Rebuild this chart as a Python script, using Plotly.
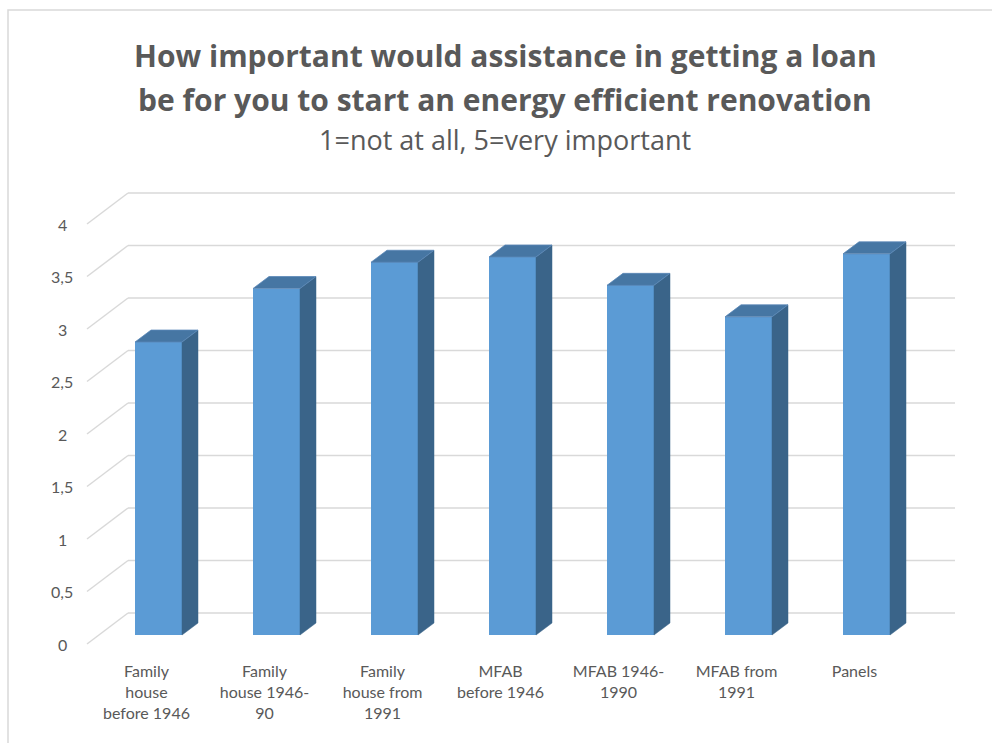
import plotly.graph_objects as go

categories = ["Family<br>house<br>before 1946", "Family<br>house 1946-<br>90", "Family<br>house from<br>1991",
              "MFAB<br>before 1946", "MFAB 1946-<br>1990", "MFAB from<br>1991", "Panels"]
values = [2.79, 3.30, 3.55, 3.60, 3.33, 3.03, 3.63]
y_ticks = [0, 0.5, 1, 1.5, 2, 2.5, 3, 3.5, 4]
y_ticktext = ["0", "0,5", "1", "1,5", "2", "2,5", "3", "3,5", "4"]

# ---- geometry (pixels) ----
W, H = 992, 743
L, R, T, B = 80, 970, 170, 660
PX_X0, PX_PER_CAT = 158.5, 118.0   # bar-front plane: category 0 centre, px per category
PX_Y0, PX_PER_UNIT = 635.0, 105.0  # bar-front plane: value 0, px per unit

def dx(px):
    return px / PX_PER_CAT

def dy(px):
    return px / PX_PER_UNIT

xr = [(L - PX_X0) / PX_PER_CAT, (R - PX_X0) / PX_PER_CAT]
yr = [(PX_Y0 - B) / PX_PER_UNIT, (PX_Y0 - T) / PX_PER_UNIT]

bar_w = dx(47)
bdx, bdy = dx(16), dy(12)            # bar depth
front_dx, front_dy = dx(-12), dy(-9)  # front plane offset
back_dy = dy(22)                      # back wall offset
back_x_start = dx(128 - PX_X0)
back_x_end = dx(955 - PX_X0)
front_x_left = dx(87 - PX_X0)

FRONT = "#5B9BD5"
TOP = "#4676A3"
SIDE = "#3A6489"
GRID = "#D9D9D9"
TXT = "#595959"
FONT = "Lato"
TFONT = "Open Sans"

xs = list(range(len(values)))

fig = go.Figure()
fig.add_trace(go.Bar(x=xs, y=values, width=bar_w, marker=dict(color=FRONT, line=dict(width=0)),
                     hoverinfo="skip", showlegend=False))

top_x, top_y, side_x, side_y = [], [], [], []
for i, v in zip(xs, values):
    a, b = i - bar_w / 2, i + bar_w / 2
    top_x += [a, b, b + bdx, a + bdx, a, None]
    top_y += [v, v, v + bdy, v + bdy, v, None]
    side_x += [b, b, b + bdx, b + bdx, b, None]
    side_y += [0, v, v + bdy, bdy, 0, None]

fig.add_trace(go.Scatter(x=side_x, y=side_y, fill="toself", fillcolor=SIDE, mode="lines",
                         line=dict(color=SIDE, width=0.5), hoverinfo="skip", showlegend=False))
fig.add_trace(go.Scatter(x=top_x, y=top_y, fill="toself", fillcolor=TOP, mode="lines",
                         line=dict(color="#5A88B8", width=0.8), hoverinfo="skip", showlegend=False))

shapes = []
for k in y_ticks:
    # back wall gridline
    shapes.append(dict(type="line", xref="x", yref="y", layer="below",
                       x0=back_x_start, x1=back_x_end, y0=k + back_dy, y1=k + back_dy,
                       line=dict(color=GRID, width=1.5)))
    # side wall diagonal
    shapes.append(dict(type="line", xref="x", yref="y", layer="below",
                       x0=front_x_left, y0=k + front_dy, x1=back_x_start, y1=k + back_dy,
                       line=dict(color=GRID, width=1.5)))

# chart frame
shapes.append(dict(type="rect", xref="paper", yref="paper",
                   x0=(8 - L) / (R - L), x1=(1010 - L) / (R - L),
                   y0=(B - 760) / (B - T), y1=(B - 10) / (B - T),
                   line=dict(color=GRID, width=1.5), fillcolor="rgba(0,0,0,0)", layer="below"))

def px_x(p):
    return (p - L) / (R - L)

def px_y(p):
    return (B - p) / (B - T)

annotations = [
    dict(text="<b>How important would assistance in getting a loan</b>", x=px_x(505), y=px_y(55),
         font=dict(size=30, color=TXT, family=TFONT)),
    dict(text="<b>be for you to start an energy efficient renovation</b>", x=px_x(505), y=px_y(99),
         font=dict(size=30, color=TXT, family=TFONT)),
    dict(text="1=not at all, 5=very important", x=px_x(505), y=px_y(140),
         font=dict(size=27, color=TXT, family=TFONT)),
]
for a in annotations:
    a.update(xref="paper", yref="paper", showarrow=False, xanchor="center", yanchor="middle")

# y tick labels, centred as in the original
for k, t in zip(y_ticks, y_ticktext):
    annotations.append(dict(text=t, x=px_x(62), xref="paper", y=k + front_dy, yref="y",
                            showarrow=False, xanchor="center", yanchor="middle",
                            font=dict(size=16, color=TXT, family=FONT)))

fig.update_layout(
    width=W, height=H,
    margin=dict(l=L, r=W - R, t=T, b=H - B),
    paper_bgcolor="white", plot_bgcolor="white",
    shapes=shapes, annotations=annotations,
    font=dict(family=FONT, size=16, color=TXT),
    bargap=0,
    xaxis=dict(range=xr, showgrid=False, zeroline=False, showline=False,
               tickmode="array", tickvals=[i + front_dx for i in xs], ticktext=categories,
               ticks="", tickfont=dict(size=16, color=TXT, family=FONT)),
    yaxis=dict(range=yr, showgrid=False, zeroline=False, showline=False,
               showticklabels=False, ticks=""),
)

fig.write_html("out.html")
